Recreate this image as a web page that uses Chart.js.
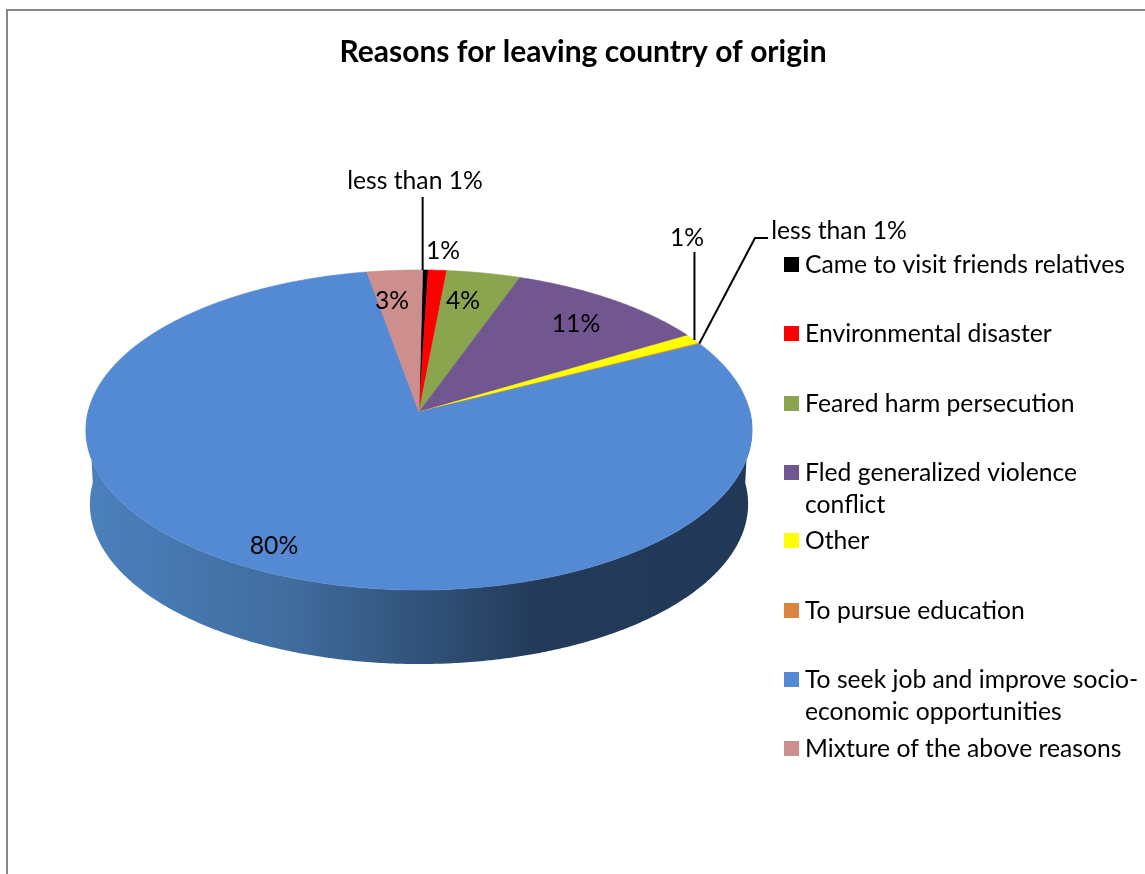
<!DOCTYPE html>
<html>
<head>
<meta charset="utf-8">
<title>Reasons for leaving country of origin</title>
<script src="https://cdn.jsdelivr.net/npm/chart.js@4/dist/chart.umd.min.js"></script>
<style>
  html, body { margin: 0; padding: 0; background: #fff; overflow: hidden; }
  canvas { display: block; }
</style>
</head>
<body>
<canvas id="chart" width="1145" height="874"></canvas>
<script>
const chartTitle = 'Reasons for leaving country of origin';
const categories = [
  'Came to visit friends relatives',
  'Environmental disaster',
  'Feared harm persecution',
  ['Fled generalized violence', 'conflict'],
  'Other',
  'To pursue education',
  ['To seek job and improve socio-', 'economic opportunities'],
  'Mixture of the above reasons'
];
const shares = [0.3, 1, 4, 11, 1, 0.1, 80, 3];
const shareLabels = ['less than 1%', '1%', '4%', '11%', '1%', 'less than 1%', '80%', '3%'];
const sliceColors = ['#000000', '#ff0000', '#8aa54e', '#725690', '#ffff00', '#db843d', '#548ad4', '#cd8f8e'];

const FONT = 'Lato, sans-serif';
const LABEL_SIZE = 24.7;

// Tilted disc: a perspective projection of the unit circle.
const disc = { cx: 419, apexY: 412, c: 331, b: 158, k: 0.1125, depth: 74, baseScale: 0.988 };

function project(angle) {
  const u = Math.cos(angle), v = Math.sin(angle);
  const w = 1 - disc.k * v;
  return { x: disc.cx + disc.c * u / w, y: disc.apexY + disc.b * v / w };
}

function projectBase(angle) {
  const p = project(angle);
  return { x: disc.cx + (p.x - disc.cx) * disc.baseScale, y: p.y + disc.depth };
}

// Where each percentage sits. A leader runs from its elbow (or straight up from
// the rim when topY is given) to a point along the wedge's outer edge.
const labelPlacement = [
  { x: 415, y: 181, topY: 197, along: 0 },
  { x: 443, y: 251 },
  { x: 463, y: 301 },
  { x: 576, y: 324 },
  { x: 687, y: 238, topY: 252, along: 0.6 },
  { x: 839, y: 231, elbow: [{ x: 768, y: 238 }, { x: 755, y: 238 }], along: 0.5 },
  { x: 274, y: 546 },
  { x: 392, y: 301 }
];

const legendLineCentres = [[265], [334], [404], [473, 505], [541], [611], [680, 712], [749]];

const tiltedPie = {
  id: 'tiltedPie',
  beforeDraw(chart) {
    const { ctx } = chart;
    ctx.save();
    ctx.strokeStyle = '#868686';
    ctx.lineWidth = 2;
    ctx.beginPath();
    ctx.moveTo(7, 874);
    ctx.lineTo(7, 10);
    ctx.lineTo(1145, 10);
    ctx.stroke();
    ctx.restore();
  },
  beforeDatasetDraw(chart, args) {
    const { ctx } = chart;
    const arcs = chart.getDatasetMeta(args.index).data;

    // Rim of the disc
    const rim = ctx.createLinearGradient(88, 0, 750, 0);
    rim.addColorStop(0, '#4b80bd');
    rim.addColorStop(0.3, '#416d9f');
    rim.addColorStop(0.5, '#31537a');
    rim.addColorStop(0.68, '#233a59');
    rim.addColorStop(1, '#223857');
    ctx.save();
    ctx.fillStyle = rim;
    ctx.beginPath();
    const from = -0.02, to = Math.PI + 0.02, steps = 360;
    for (let i = 0; i <= steps; i++) {
      const p = projectBase(from + (to - from) * i / steps);
      i ? ctx.lineTo(p.x, p.y) : ctx.moveTo(p.x, p.y);
    }
    for (let i = steps; i >= 0; i--) {
      const p = project(from + (to - from) * i / steps);
      ctx.lineTo(p.x, p.y);
    }
    ctx.closePath();
    ctx.fill();

    // Top face, one wedge per data element
    arcs.forEach((arc) => {
      const { startAngle, endAngle } = arc.getProps(['startAngle', 'endAngle'], true);
      const color = arc.options.backgroundColor;
      ctx.fillStyle = color;
      ctx.strokeStyle = color;
      ctx.lineWidth = 0.6;
      ctx.beginPath();
      ctx.moveTo(disc.cx, disc.apexY);
      const n = Math.max(2, Math.ceil((endAngle - startAngle) / 0.005));
      for (let i = 0; i <= n; i++) {
        const p = project(startAngle + (endAngle - startAngle) * i / n);
        ctx.lineTo(p.x, p.y);
      }
      ctx.closePath();
      ctx.fill();
      ctx.stroke();
    });
    ctx.restore();
    return false;
  },
  afterDatasetsDraw(chart) {
    const { ctx } = chart;
    const arcs = chart.getDatasetMeta(0).data;
    ctx.save();

    // Title
    ctx.fillStyle = '#000';
    ctx.textAlign = 'center';
    ctx.textBaseline = 'middle';
    ctx.font = 'bold 30px ' + FONT;
    ctx.fillText(chartTitle, 583, 52);

    // Percentage labels and their leader lines
    ctx.font = LABEL_SIZE + 'px ' + FONT;
    shareLabels.forEach((text, i) => {
      const place = labelPlacement[i];
      ctx.fillStyle = '#000';
      ctx.fillText(text, place.x, place.y);
      if (place.along !== undefined) {
        const { startAngle, endAngle } = arcs[i].getProps(['startAngle', 'endAngle'], true);
        const tip = project(startAngle + (endAngle - startAngle) * place.along);
        ctx.strokeStyle = '#000';
        ctx.lineWidth = 2;
        ctx.beginPath();
        if (place.elbow) {
          place.elbow.forEach((p, j) => (j ? ctx.lineTo(p.x, p.y) : ctx.moveTo(p.x, p.y)));
        } else {
          ctx.moveTo(tip.x, place.topY);
        }
        ctx.lineTo(tip.x, tip.y);
        ctx.stroke();
      }
    });

    // Legend
    ctx.textAlign = 'left';
    categories.forEach((name, i) => {
      const lines = Array.isArray(name) ? name : [name];
      const ys = legendLineCentres[i];
      ctx.fillStyle = sliceColors[i];
      ctx.fillRect(784, ys[0] - 8, 15, 15);
      ctx.fillStyle = '#000';
      lines.forEach((line, j) => ctx.fillText(line, 805, ys[j]));
    });
    ctx.restore();
  }
};

new Chart(document.getElementById('chart'), {
  type: 'pie',
  data: {
    labels: categories,
    datasets: [{ data: shares, backgroundColor: sliceColors, borderWidth: 0 }]
  },
  options: {
    responsive: false,
    animation: false,
    rotation: 0.7,
    plugins: { legend: { display: false }, title: { display: false }, tooltip: { enabled: false } }
  },
  plugins: [tiltedPie]
});
</script>
</body>
</html>
